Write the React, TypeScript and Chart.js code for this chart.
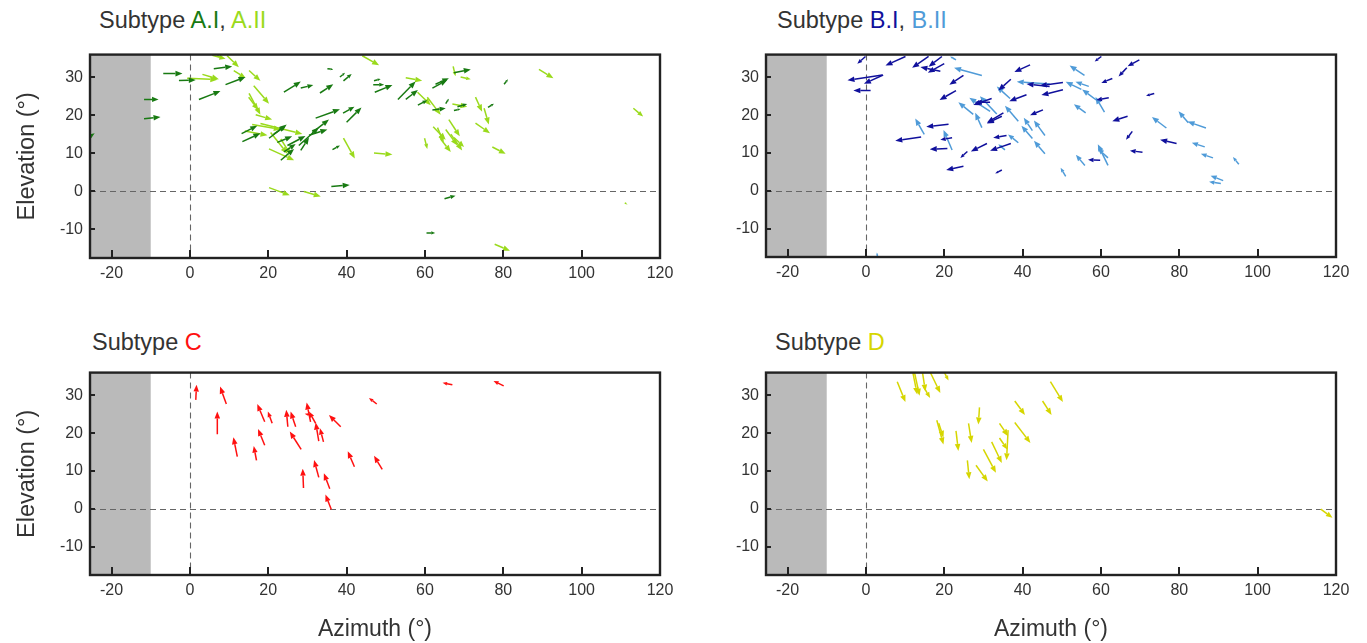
import React, { useEffect, useRef } from "react";
import { Chart, registerables } from "chart.js";
Chart.register(...registerables);

const FONT = "'Liberation Sans', Arial, Helvetica, sans-serif";
const TEXT = "#333333";

const xTickValues = [-20, 0, 20, 40, 60, 80, 100, 120];
const yTickValues = [-10, 0, 10, 20, 30];
const azimuthRange = [-25.5, 120];
const elevationRange = [-17.5, 36];
const blindEdge = -10;

const AI_COLOR = "#187a12";
const AII_COLOR = "#9ada1c";
const BI_COLOR = "#10109c";
const BII_COLOR = "#4f9bd8";
const C_COLOR = "#ff1010";
const D_COLOR = "#d6d600";

// arrows: [tail azimuth, tail elevation, head azimuth, head elevation]
const subtypeAI: number[][] = [
  [-6.8, 31.0, -1.9, 31.0], [-11.7, 24.2, -8.0, 24.2], [-11.7, 19.1, -7.5, 19.6],
  [-27.0, 13.5, -24.3, 15.3], [-2.8, 29.2, 1.5, 29.3], [6.1, 32.3, 10.8, 32.9],
  [9.1, 28.1, 14.2, 30.1], [2.3, 24.2, 7.8, 26.4], [24.0, 26.1, 28.3, 28.9],
  [28.3, 27.2, 31.5, 28.0], [33.2, 25.9, 36.6, 28.2], [35.1, 32.3, 36.6, 32.1],
  [38.3, 30.1, 39.6, 31.2], [39.2, 29.1, 41.3, 30.9], [32.1, 19.3, 38.3, 21.6],
  [39.1, 20.6, 42.0, 22.3], [40.0, 18.2, 43.8, 22.1], [13.2, 15.2, 17.2, 17.3],
  [13.4, 13.1, 18.0, 15.3], [20.2, 14.0, 24.7, 17.6], [21.4, 15.1, 24.4, 17.2],
  [22.3, 12.9, 26.1, 14.5], [23.2, 8.2, 26.6, 11.2], [24.0, 10.4, 27.0, 12.5],
  [24.9, 12.1, 29.5, 14.6], [27.8, 12.1, 32.9, 16.8], [28.3, 10.8, 30.4, 14.2],
  [30.4, 14.8, 35.1, 16.3], [31.2, 15.5, 35.5, 18.9], [36.4, 11.0, 38.3, 12.1],
  [36.1, 1.3, 40.8, 1.7], [47.0, 29.1, 48.7, 29.6], [46.8, 28.1, 49.6, 28.1],
  [47.2, 26.1, 51.7, 28.0], [53.1, 24.2, 57.6, 28.9], [55.1, 24.2, 58.2, 26.7],
  [58.2, 22.7, 60.6, 24.0], [61.9, 21.4, 65.3, 21.9], [61.9, 27.2, 65.7, 29.3],
  [62.7, 28.2, 66.1, 29.8], [65.3, 23.1, 66.1, 24.4], [67.4, 31.2, 71.7, 32.1],
  [67.4, 21.3, 69.1, 21.7], [68.3, 22.3, 70.8, 23.0], [80.2, 28.2, 81.2, 29.5],
  [76.1, 22.1, 77.6, 23.1], [65.0, -1.9, 67.8, -1.1], [60.4, -10.9, 62.6, -10.9],
];

const subtypeAII: number[][] = [
  [5.7, 35.8, 9.1, 34.9], [7.0, 35.8, 8.4, 35.0], [9.5, 35.7, 12.5, 32.7],
  [11.2, 31.8, 14.2, 29.9], [15.1, 31.8, 18.0, 29.1], [16.3, 27.8, 20.2, 23.1],
  [15.1, 25.8, 18.0, 20.2], [15.0, 24.8, 17.5, 21.4], [16.8, 20.2, 21.0, 18.9],
  [14.0, 15.9, 19.8, 14.8], [15.9, 17.6, 23.2, 16.3], [18.0, 17.9, 28.7, 15.1],
  [20.6, 15.5, 24.9, 9.9], [20.2, 11.2, 26.6, 8.2], [23.2, 13.8, 25.7, 9.7],
  [39.2, 14.0, 42.1, 8.7], [-0.7, 29.8, 7.0, 29.4], [3.2, 30.8, 7.4, 29.5],
  [20.2, 1.0, 25.5, -1.0], [29.1, 0.0, 33.4, -1.3], [44.0, 35.7, 48.3, 33.2],
  [55.1, 29.9, 59.3, 29.1], [58.1, 26.1, 61.5, 22.7], [60.6, 24.8, 64.0, 20.2],
  [67.2, 32.9, 67.8, 30.3], [69.1, 30.1, 71.7, 29.5], [67.0, 23.0, 70.8, 22.3],
  [72.9, 24.8, 74.6, 21.0], [75.1, 21.9, 76.3, 17.6], [72.9, 18.0, 76.6, 15.3],
  [77.2, 11.7, 80.6, 9.9], [47.0, 10.1, 51.7, 9.7], [59.9, 14.0, 60.6, 11.2],
  [62.1, 17.0, 65.3, 13.6], [63.2, 16.8, 64.8, 12.9], [64.0, 13.8, 66.6, 10.4],
  [65.3, 16.3, 68.3, 12.1], [66.1, 18.9, 68.9, 14.5], [66.6, 15.1, 69.5, 10.8],
  [67.4, 14.2, 70.0, 11.7], [89.1, 32.1, 92.8, 29.8], [113.2, 21.9, 115.7, 19.7],
  [111.0, -3.0, 111.7, -3.4], [77.8, -13.9, 81.7, -15.6],
];

const subtypeBI: number[][] = [
  [-0.1, 35.5, -2.2, 33.6], [4.2, 30.6, -4.7, 29.2], [4.4, 30.6, -0.5, 28.3],
  [1.2, 26.5, -3.2, 26.5], [10.1, 35.5, 5.0, 33.1], [16.0, 35.5, 11.8, 32.5],
  [19.4, 35.5, 16.0, 32.8], [19.0, 31.6, 13.9, 32.7], [20.0, 33.6, 15.8, 31.2],
  [24.9, 30.5, 21.3, 28.0], [23.0, 26.5, 18.8, 24.0], [41.9, 33.3, 37.9, 31.4],
  [37.0, 29.5, 33.8, 26.5], [41.0, 25.4, 36.6, 23.7], [46.9, 27.6, 41.0, 28.2],
  [32.1, 24.4, 27.4, 22.7], [31.7, 23.4, 27.9, 23.4], [35.1, 20.6, 30.9, 18.0],
  [34.7, 19.7, 30.9, 17.8], [45.2, 21.4, 41.9, 20.0], [35.9, 14.6, 32.5, 14.0],
  [37.0, 12.5, 31.7, 10.6], [30.9, 12.5, 26.8, 10.4], [25.9, 10.4, 24.1, 8.7],
  [24.9, 6.5, 20.5, 5.5], [34.7, 5.5, 33.0, 4.6], [22.0, 14.0, 19.0, 13.5],
  [20.8, 11.2, 16.3, 11.0], [21.1, 17.6, 15.4, 16.9], [14.1, 14.2, 7.5, 13.2],
  [60.1, 35.5, 58.4, 34.2], [69.8, 34.6, 66.8, 32.9], [66.6, 32.5, 64.5, 30.2],
  [62.9, 29.7, 60.1, 28.5], [50.3, 28.6, 44.4, 27.8], [50.3, 26.7, 44.8, 25.3],
  [62.0, 24.6, 58.8, 24.0], [73.6, 25.7, 71.5, 25.1], [66.8, 19.7, 62.9, 18.4],
  [68.0, 15.7, 66.4, 13.5], [79.3, 12.5, 75.1, 13.5], [70.6, 10.2, 67.4, 10.6],
  [59.8, 8.1, 56.7, 8.2],
];

const subtypeBII: number[][] = [
  [23.0, 34.6, 21.5, 35.5], [29.6, 30.5, 22.5, 32.5], [36.8, 24.4, 33.4, 27.6],
  [46.9, 28.2, 38.5, 28.8], [27.4, 20.2, 23.6, 23.4], [29.6, 16.7, 27.9, 20.6],
  [31.7, 21.0, 26.4, 24.6], [33.4, 20.3, 29.1, 25.0], [38.9, 18.4, 35.5, 22.5],
  [42.5, 15.9, 40.3, 19.3], [42.5, 13.8, 39.7, 17.2], [45.7, 14.6, 42.9, 18.6],
  [45.7, 9.8, 42.9, 13.2], [38.9, 12.7, 36.3, 14.9], [35.5, 10.8, 33.8, 12.3],
  [22.0, 10.8, 19.8, 16.1], [14.9, 14.9, 12.6, 19.1], [3.0, -17.8, 2.8, -16.3],
  [55.8, 30.5, 52.0, 33.1], [55.0, 26.8, 51.0, 28.8], [56.9, 27.6, 53.5, 28.8],
  [58.8, 24.0, 55.2, 26.8], [60.9, 20.8, 58.6, 24.8], [56.1, 20.6, 53.1, 22.9],
  [76.7, 16.6, 73.0, 19.5], [82.3, 18.0, 79.8, 21.0], [86.8, 16.6, 82.1, 18.3],
  [86.5, 11.6, 83.2, 12.7], [88.6, 8.7, 85.5, 9.8], [95.2, 7.0, 93.7, 8.9],
  [61.8, 6.7, 59.2, 12.3], [61.8, 8.7, 59.2, 11.2], [55.9, 6.7, 53.6, 9.5],
  [51.0, 3.8, 49.7, 6.1], [91.2, 2.7, 88.0, 4.0], [90.6, 1.9, 87.6, 2.4],
];

const subtypeC: number[][] = [
  [1.5, 28.8, 1.7, 32.8], [9.3, 27.7, 7.7, 32.3], [7.0, 19.7, 7.0, 25.7],
  [12.1, 13.8, 11.1, 18.9], [17.0, 12.8, 16.3, 16.6], [19.1, 16.8, 17.4, 21.1],
  [19.1, 23.0, 17.2, 27.7], [21.0, 22.6, 19.9, 25.7], [25.0, 21.7, 24.6, 26.2],
  [27.0, 21.7, 25.7, 25.7], [28.4, 15.7, 25.5, 20.4], [30.8, 23.0, 29.8, 28.1],
  [31.2, 24.7, 29.3, 25.1], [32.9, 17.9, 32.1, 22.8], [34.1, 17.7, 33.2, 21.3],
  [32.1, 22.6, 30.4, 25.7], [38.5, 21.7, 35.5, 24.8], [47.7, 27.7, 45.7, 29.3],
  [29.0, 5.5, 28.8, 10.6], [32.9, 8.3, 31.7, 12.9], [35.7, 5.3, 34.2, 9.4],
  [36.1, -0.2, 34.6, 3.8], [42.0, 11.1, 40.3, 15.2], [49.1, 10.4, 47.0, 14.0],
  [67.0, 32.8, 64.5, 33.3], [80.1, 32.5, 77.5, 33.8],
];

const subtypeD: number[][] = [
  [8.0, 33.6, 10.1, 28.2], [11.8, 37.0, 13.1, 30.2], [12.2, 37.0, 13.7, 29.9],
  [14.3, 37.0, 15.2, 31.0], [14.7, 32.3, 16.4, 29.3], [16.0, 37.0, 19.0, 30.6],
  [19.8, 36.5, 21.1, 33.9], [18.1, 23.4, 19.8, 17.0], [18.6, 22.6, 19.8, 18.8],
  [23.0, 20.6, 23.6, 15.3], [26.2, 22.6, 27.0, 17.4], [29.0, 26.8, 28.7, 22.3],
  [25.9, 12.8, 26.4, 7.8], [28.1, 11.5, 31.1, 7.2], [30.0, 15.7, 33.2, 9.5],
  [32.1, 17.7, 34.7, 12.1], [34.1, 18.7, 36.1, 15.7], [34.1, 22.6, 36.3, 19.2],
  [36.3, 20.8, 35.9, 12.8], [38.0, 22.8, 42.0, 17.4], [38.0, 28.5, 40.6, 24.8],
  [45.1, 28.5, 47.4, 24.8], [47.1, 33.6, 50.3, 28.2], [116.1, -0.1, 119.1, -2.4],
];

const quiverPlugin = {
  id: "quiver",
  beforeDatasetsDraw(chart: any) {
    const { ctx, chartArea: a, scales } = chart;
    const xs = scales.x, ys = scales.y;
    ctx.save();
    const xe = xs.getPixelForValue(blindEdge);
    ctx.fillStyle = "#bababa";
    ctx.fillRect(a.left, a.top, xe - a.left, a.bottom - a.top);
    ctx.strokeStyle = "#666666";
    ctx.lineWidth = 1.1;
    ctx.setLineDash([6, 4]);
    const x0 = Math.round(xs.getPixelForValue(0)) + 0.5;
    const y0 = Math.round(ys.getPixelForValue(0)) + 0.5;
    ctx.beginPath();
    ctx.moveTo(x0, a.top);
    ctx.lineTo(x0, a.bottom);
    ctx.moveTo(a.left, y0);
    ctx.lineTo(a.right, y0);
    ctx.stroke();
    ctx.restore();
  },
  afterDatasetsDraw(chart: any) {
    const { ctx, chartArea: a, scales } = chart;
    const xs = scales.x, ys = scales.y;
    ctx.save();
    ctx.beginPath();
    ctx.rect(a.left, a.top, a.right - a.left, a.bottom - a.top);
    ctx.clip();
    chart.data.datasets.forEach((ds: any) => {
      ctx.strokeStyle = ds.borderColor;
      ctx.fillStyle = ds.borderColor;
      ctx.lineWidth = 1.5;
      ds.data.forEach((p: any) => {
        const x1 = xs.getPixelForValue(p.x), y1 = ys.getPixelForValue(p.y);
        const x2 = xs.getPixelForValue(p.hx), y2 = ys.getPixelForValue(p.hy);
        const len = Math.hypot(x2 - x1, y2 - y1);
        if (len < 0.5) return;
        const ux = (x2 - x1) / len, uy = (y2 - y1) / len;
        const hl = Math.min(7, len * 0.45), hw = hl * 0.4;
        const bx = x2 - ux * hl, by = y2 - uy * hl;
        ctx.beginPath();
        ctx.moveTo(x1, y1);
        ctx.lineTo(bx, by);
        ctx.stroke();
        ctx.beginPath();
        ctx.moveTo(x2, y2);
        ctx.lineTo(bx - uy * hw, by + ux * hw);
        ctx.lineTo(bx + uy * hw, by - ux * hw);
        ctx.closePath();
        ctx.fill();
      });
    });
    ctx.restore();
    ctx.save();
    ctx.strokeStyle = "#222222";
    ctx.lineWidth = 2;
    ctx.beginPath();
    xTickValues.forEach((v) => {
      const px = Math.round(xs.getPixelForValue(v));
      ctx.moveTo(px, a.bottom);
      ctx.lineTo(px, a.bottom - 8);
    });
    yTickValues.forEach((v) => {
      const py = Math.round(ys.getPixelForValue(v));
      ctx.moveTo(a.left, py);
      ctx.lineTo(a.left + 5, py);
    });
    ctx.stroke();
    ctx.lineWidth = 2.4;
    ctx.strokeRect(a.left, a.top, a.right - a.left, a.bottom - a.top);
    ctx.restore();
  },
};

type Panel = {
  left: number; top: number; width: number; height: number;
  yWidth: number; padRight: number; xHeight: number;
  yTitle: boolean; xTitle: boolean;
  series: { arrows: number[][]; color: string }[];
  title: [string, string][];
  titleLeft: number; titleTop: number;
};

const panels: Panel[] = [
  {
    left: 0, top: 38, width: 680, height: 251, yWidth: 90, padRight: 20, xHeight: 31,
    yTitle: true, xTitle: false,
    series: [{ arrows: subtypeAII, color: AII_COLOR }, { arrows: subtypeAI, color: AI_COLOR }],
    title: [["Subtype ", TEXT], ["A.I", AI_COLOR], [", ", TEXT], ["A.II", AII_COLOR]],
    titleLeft: 99, titleTop: 9,
  },
  {
    left: 680, top: 38, width: 680, height: 250, yWidth: 86, padRight: 24, xHeight: 31,
    yTitle: false, xTitle: false,
    series: [{ arrows: subtypeBII, color: BII_COLOR }, { arrows: subtypeBI, color: BI_COLOR }],
    title: [["Subtype ", TEXT], ["B.I", BI_COLOR], [", ", TEXT], ["B.II", BII_COLOR]],
    titleLeft: 777, titleTop: 9,
  },
  {
    left: 0, top: 356, width: 680, height: 287, yWidth: 90, padRight: 20, xHeight: 68,
    yTitle: true, xTitle: true,
    series: [{ arrows: subtypeC, color: C_COLOR }],
    title: [["Subtype ", TEXT], ["C", C_COLOR]],
    titleLeft: 92, titleTop: 331,
  },
  {
    left: 680, top: 356, width: 680, height: 287, yWidth: 86, padRight: 24, xHeight: 68,
    yTitle: false, xTitle: true,
    series: [{ arrows: subtypeD, color: D_COLOR }],
    title: [["Subtype ", TEXT], ["D", D_COLOR]],
    titleLeft: 775, titleTop: 331,
  },
];

function QuiverPanel({ panel }: { panel: Panel }) {
  const ref = useRef<HTMLCanvasElement>(null);
  useEffect(() => {
    if (!ref.current) return;
    const chart = new Chart(ref.current, {
      type: "scatter",
      data: {
        datasets: panel.series.map((s) => ({
          data: s.arrows.map(([x, y, hx, hy]) => ({ x, y, hx, hy })),
          borderColor: s.color,
          backgroundColor: s.color,
          pointRadius: 0,
          showLine: false,
        })),
      } as any,
      options: {
        responsive: false,
        animation: false,
        devicePixelRatio: 1,
        layout: { padding: { left: 0, top: 10, right: panel.padRight, bottom: 0 } },
        plugins: { legend: { display: false }, tooltip: { enabled: false } },
        events: [],
        scales: {
          x: {
            type: "linear",
            min: azimuthRange[0],
            max: azimuthRange[1],
            afterBuildTicks: (s: any) => { s.ticks = xTickValues.map((v) => ({ value: v })); },
            afterFit: (s: any) => { s.height = panel.xHeight; },
            grid: { display: false, drawTicks: false },
            border: { display: false },
            ticks: { padding: 6, color: TEXT, font: { size: 16, family: FONT }, callback: (v: any) => String(v), maxRotation: 0 },
            title: {
              display: panel.xTitle, text: "Azimuth (°)", color: TEXT,
              font: { size: 23, family: FONT }, padding: { top: 0, bottom: 0 },
            },
          },
          y: {
            type: "linear",
            min: elevationRange[0],
            max: elevationRange[1],
            afterBuildTicks: (s: any) => { s.ticks = yTickValues.map((v) => ({ value: v })); },
            afterFit: (s: any) => { s.width = panel.yWidth; },
            grid: { display: false, drawTicks: false },
            border: { display: false },
            ticks: { padding: 7, color: TEXT, font: { size: 16, family: FONT }, callback: (v: any) => String(v) },
            title: {
              display: panel.yTitle, text: "Elevation (°)", color: TEXT,
              font: { size: 23.5, family: FONT }, padding: { top: 13, bottom: 0 },
            },
          },
        },
      } as any,
      plugins: [quiverPlugin],
    });
    return () => chart.destroy();
  }, [panel]);
  return (
    <>
      <div
        style={{
          position: "absolute", left: panel.titleLeft, top: panel.titleTop,
          fontFamily: FONT, fontSize: 23.5, lineHeight: "23.5px", whiteSpace: "nowrap",
        }}
      >
        {panel.title.map(([t, c], i) => (
          <span key={i} style={{ color: c, whiteSpace: "pre" }}>{t}</span>
        ))}
      </div>
      <canvas
        ref={ref}
        width={panel.width}
        height={panel.height}
        style={{ position: "absolute", left: panel.left, top: panel.top, width: panel.width, height: panel.height }}
      />
    </>
  );
}

export default function App() {
  return (
    <div style={{ position: "fixed", left: 0, top: 0, width: 1367, height: 643, background: "#fff", overflow: "hidden" }}>
      {panels.map((p, i) => (
        <QuiverPanel key={i} panel={p} />
      ))}
    </div>
  );
}
